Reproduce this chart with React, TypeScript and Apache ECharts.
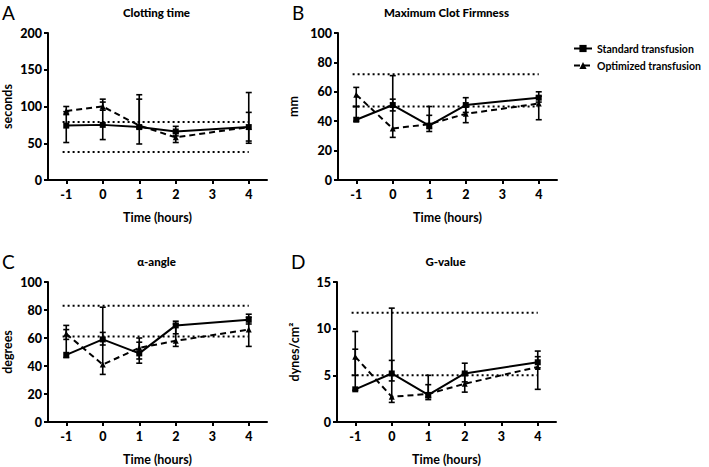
import React, { useEffect, useRef } from "react";
import * as echarts from "echarts";

const hours = [-1, 0, 1, 2, 4];
const tickHours = [-1, 0, 1, 2, 3, 4];
const seriesNames = ["Standard transfusion", "Optimized transfusion"];

// Clotting time (seconds)
const ctStd = [74, 75, 72, 66, 72];
const ctStdLow = [51, 55, 49, 60, 50];
const ctStdHigh = [93, 106, 116, 73, 119];
const ctOpt = [94, 100, 74, 58, 72];
const ctOptLow = [89, 95, 70, 51, 53];
const ctOptHigh = [100, 110, 110, 64, 92];
const ctRef = [38, 79];

// Maximum clot firmness (mm)
const mcfStd = [41, 51, 37, 51, 56];
const mcfStdLow = [40, 47, 33, 46, 53];
const mcfStdHigh = [50, 71, 50, 56, 60];
const mcfOpt = [58, 35, 38, 45, 52];
const mcfOptLow = [50, 29, 35, 39, 41];
const mcfOptHigh = [63, 55, 44, 50, 57];
const mcfRef = [50, 72];

// alpha-angle (degrees)
const aStd = [48, 59, 49, 69, 73];
const aStdLow = [46, 55, 45, 63, 70];
const aStdHigh = [66, 82, 60, 72, 77];
const aOpt = [63, 41, 53, 58, 66];
const aOptLow = [59, 34, 42, 54, 54];
const aOptHigh = [69, 64, 57, 70, 75];
const aRef = [61, 83];

// G-value (dynes/cm2)
const gStd = [3.5, 5.2, 2.9, 5.2, 6.4];
const gStdLow = [3.4, 4.4, 2.4, 4.3, 5.8];
const gStdHigh = [7.8, 12.2, 5.0, 6.3, 7.6];
const gOpt = [7.0, 2.7, 3.0, 4.1, 5.9];
const gOptLow = [5.0, 2.1, 2.6, 3.2, 3.5];
const gOptHigh = [9.7, 6.6, 4.0, 5.2, 7.0];
const gRef = [5.0, 11.7];

const refStart = -1.1;
const refEnd = 4;

const FONT = "Lato, 'Open Sans', sans-serif";
const INK = "#000";

const panels = [
  { title: "Clotting time", letter: "A", yName: "seconds", max: 200, interval: 50,
    std: ctStd, stdLow: ctStdLow, stdHigh: ctStdHigh, opt: ctOpt, optLow: ctOptLow, optHigh: ctOptHigh, ref: ctRef,
    grid: { left: 48, top: 33, width: 219, height: 147 }, nameGap: 34 },
  { title: "Maximum Clot Firmness", letter: "B", yName: "mm", max: 100, interval: 20,
    std: mcfStd, stdLow: mcfStdLow, stdHigh: mcfStdHigh, opt: mcfOpt, optLow: mcfOptLow, optHigh: mcfOptHigh, ref: mcfRef,
    grid: { left: 338, top: 33, width: 219, height: 147 }, nameGap: 38 },
  { title: "α-angle", letter: "C", yName: "degrees", max: 100, interval: 20,
    std: aStd, stdLow: aStdLow, stdHigh: aStdHigh, opt: aOpt, optLow: aOptLow, optHigh: aOptHigh, ref: aRef,
    grid: { left: 48, top: 282, width: 219, height: 146 }, nameGap: 34 },
  { title: "G-value", letter: "D", yName: "dynes/cm²", max: 15, interval: 5,
    std: gStd, stdLow: gStdLow, stdHigh: gStdHigh, opt: gOpt, optLow: gOptLow, optHigh: gOptHigh, ref: gRef,
    grid: { left: 337, top: 282, width: 219, height: 146 }, nameGap: 36 },
];

function errorBarRender(params: any, api: any) {
  const x = api.value(0);
  const lo = api.coord([x, api.value(1)]);
  const hi = api.coord([x, api.value(2)]);
  const w = 3;
  const style = { stroke: INK, lineWidth: 1.6 };
  return {
    type: "group",
    children: [
      { type: "line", shape: { x1: lo[0], y1: lo[1], x2: hi[0], y2: hi[1] }, style },
      { type: "line", shape: { x1: lo[0] - w, y1: lo[1], x2: lo[0] + w, y2: lo[1] }, style },
      { type: "line", shape: { x1: hi[0] - w, y1: hi[1], x2: hi[0] + w, y2: hi[1] }, style },
    ],
  };
}

export default function App() {
  const ref = useRef<HTMLDivElement>(null);
  useEffect(() => {
    if (!ref.current) return;
    const chart = echarts.init(ref.current, null, { renderer: "svg" });
    const grid: any[] = [];
    const xAxis: any[] = [];
    const yAxis: any[] = [];
    const series: any[] = [];
    const graphic: any[] = [];

    panels.forEach((p, i) => {
      grid.push(p.grid);
      xAxis.push({
        gridIndex: i, type: "value", min: -1.5, max: 4.5,
        name: "Time (hours)", nameLocation: "middle", nameGap: 31,
        nameTextStyle: { fontFamily: FONT, fontWeight: "bold", fontSize: 12.5, color: INK },
        axisLine: { show: true, onZero: false, lineStyle: { color: INK, width: 2 } },
        axisTick: { show: true, customValues: tickHours, length: 4, lineStyle: { color: INK, width: 2 } },
        axisLabel: { customValues: tickHours, fontFamily: FONT, fontWeight: 900, fontSize: 12.5, color: INK, margin: 8 },
        splitLine: { show: false },
      });
      yAxis.push({
        gridIndex: i, type: "value", min: 0, max: p.max, interval: p.interval,
        name: p.yName, nameLocation: "middle", nameRotate: 90, nameGap: p.nameGap,
        nameTextStyle: { fontFamily: FONT, fontWeight: "bold", fontSize: 12.5, color: INK },
        axisLine: { show: true, onZero: false, lineStyle: { color: INK, width: 2 } },
        axisTick: { show: true, length: 4, lineStyle: { color: INK, width: 2 } },
        axisLabel: { fontFamily: FONT, fontWeight: 900, fontSize: 12.5, color: INK, margin: 6 },
        splitLine: { show: false },
      });
      p.ref.forEach((v) => {
        series.push({
          type: "line", xAxisIndex: i, yAxisIndex: i, silent: true, symbol: "none",
          data: [[refStart, v], [refEnd, v]],
          lineStyle: { color: INK, width: 2, type: [2, 3] }, z: 1,
        });
      });
      series.push({
        type: "custom", xAxisIndex: i, yAxisIndex: i, renderItem: errorBarRender,
        data: hours.map((h, k) => [h, p.stdLow[k], p.stdHigh[k]]), encode: { x: 0, y: [1, 2] }, z: 2,
      });
      series.push({
        type: "custom", xAxisIndex: i, yAxisIndex: i, renderItem: errorBarRender,
        data: hours.map((h, k) => [h, p.optLow[k], p.optHigh[k]]), encode: { x: 0, y: [1, 2] }, z: 2,
      });
      series.push({
        name: seriesNames[0], type: "line", xAxisIndex: i, yAxisIndex: i,
        data: hours.map((h, k) => [h, p.std[k]]),
        symbol: "rect", symbolSize: 6,
        lineStyle: { color: INK, width: 2 }, itemStyle: { color: INK }, z: 3,
      });
      series.push({
        name: seriesNames[1], type: "line", xAxisIndex: i, yAxisIndex: i,
        data: hours.map((h, k) => [h, p.opt[k]]),
        symbol: "triangle", symbolSize: 6,
        lineStyle: { color: INK, width: 2, type: [6, 4] }, itemStyle: { color: INK }, z: 3,
      });
      const cx = p.grid.left + p.grid.width / 2 - 1;
      graphic.push({
        type: "text", x: cx, y: p.grid.top - 21,
        style: { text: p.title, textAlign: "center", textVerticalAlign: "middle",
          font: `900 11.5px ${FONT}`, fill: INK },
      });
      graphic.push({
        type: "text", x: p.grid.left - 46, y: p.grid.top - 21,
        style: { text: p.letter, textAlign: "left", textVerticalAlign: "middle",
          font: `19px ${FONT}`, fill: INK },
      });
    });

    chart.setOption({
      animation: false,
      backgroundColor: "#fff",
      grid, xAxis, yAxis, series, graphic,
      legend: {
        orient: "vertical", left: 568, top: 38, itemGap: 6, itemWidth: 18, itemHeight: 9,
        data: seriesNames,
        textStyle: { fontFamily: FONT, fontSize: 10.5, fontWeight: "bold", color: INK },
      },
    });
    return () => chart.dispose();
  }, []);
  return (
    <div
      ref={ref}
      style={{ position: "fixed", left: 0, top: 0, width: 709, height: 467, background: "#fff" }}
    />
  );
}
